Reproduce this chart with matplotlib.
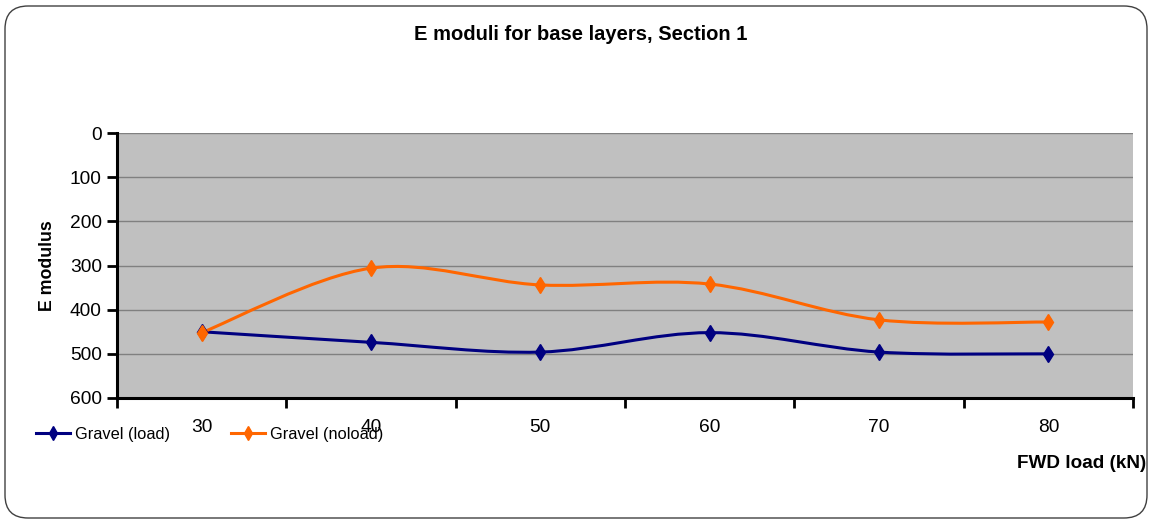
import numpy as np
import matplotlib
matplotlib.use("Agg")
import matplotlib.pyplot as plt
from matplotlib.path import Path
from matplotlib.patches import PathPatch, FancyBboxPatch
from matplotlib.lines import Line2D

# FWD load levels and back-calculated base layer moduli
loads = ["30", "40", "50", "60", "70", "80"]
e_load = [450, 474, 496, 452, 496, 500]
e_noload = [452, 306, 344, 342, 423, 428]

NAVY = "#000080"
ORANGE = "#FF6600"
PLOT_BG = "#C0C0C0"

plt.rcParams.update({
    "font.family": ["Liberation Sans", "DejaVu Sans"],
    "font.size": 12,
})


def smooth_path(xs, ys):
    """Catmull-Rom curve through the points, as cubic Bezier segments."""
    pts = np.column_stack([xs, ys]).astype(float)
    ext = np.vstack([pts[0], pts, pts[-1]])
    verts = [tuple(pts[0])]
    codes = [Path.MOVETO]
    for i in range(1, len(ext) - 2):
        p0, p1, p2, p3 = ext[i - 1], ext[i], ext[i + 1], ext[i + 2]
        c1 = p1 + (p2 - p0) / 6.0
        c2 = p2 - (p3 - p1) / 6.0
        verts += [tuple(c1), tuple(c2), tuple(p2)]
        codes += [Path.CURVE4] * 3
    return Path(verts, codes)


fig = plt.figure(figsize=(11.52, 5.22), dpi=100)
fig.patch.set_facecolor("white")

# rounded chart border
fig.patches.append(FancyBboxPatch(
    (5 / 1152, 4 / 522), 1142 / 1152, 512 / 522,
    boxstyle="round,pad=0,rounding_size=0.02",
    transform=fig.transFigure, facecolor="none",
    edgecolor="#404040", linewidth=1.0, mutation_aspect=2.2))

ax = fig.add_axes([117 / 1152, 1 - 398 / 522, (1133 - 117) / 1152, (398 - 133) / 522])
ax.set_facecolor(PLOT_BG)

x = np.arange(len(loads))
ax.set_xlim(-0.5, len(loads) - 0.5)
ax.set_ylim(600, 0)

for vals, color in [(e_load, NAVY), (e_noload, ORANGE)]:
    ax.add_patch(PathPatch(smooth_path(x, vals), facecolor="none",
                           edgecolor=color, linewidth=2.2, zorder=3))
    ax.plot(x, vals, linestyle="none", marker="d", markersize=8.5,
            color=color, zorder=4)

ax.set_yticks(np.arange(0, 601, 100))
ax.yaxis.grid(True, color="#808080", linewidth=1.0)
ax.set_axisbelow(True)
ax.set_xticks(np.arange(-0.5, len(loads), 1.0))
ax.set_xticklabels([])
ax.set_xticks(x, minor=True)
ax.set_xticklabels(loads, minor=True)
ax.tick_params(axis="x", which="major", direction="out", length=7, width=2)
ax.tick_params(axis="x", which="minor", length=0, pad=15, labelsize=13.8)
ax.tick_params(axis="y", direction="out", length=7, width=2, labelsize=13.8, pad=4)

for side in ["top", "right"]:
    ax.spines[side].set_visible(False)
for side in ["left", "bottom"]:
    ax.spines[side].set_linewidth(2.2)

fig.text(581 / 1152, 1 - 35 / 522, "E moduli for base layers, Section 1",
         ha="center", va="center", fontsize=14.5, fontweight="bold")
fig.text(47 / 1152, 1 - 266 / 522, "E modulus", rotation=90,
         ha="center", va="center", fontsize=12.8, fontweight="bold")
fig.text(1146 / 1152, 1 - 463 / 522, "FWD load (kN)",
         ha="right", va="center", fontsize=13.6, fontweight="bold")

handles = [
    Line2D([], [], color=NAVY, linewidth=2.2, marker="d", markersize=7),
    Line2D([], [], color=ORANGE, linewidth=2.2, marker="d", markersize=7),
]
fig.legend(handles, ["Gravel (load)", "Gravel (noload)"], ncol=2,
           loc="center left", bbox_to_anchor=(36 / 1152, 1 - 434 / 522),
           frameon=False, fontsize=11.8, handlelength=2.1, handletextpad=0.3,
           columnspacing=3.7, borderaxespad=0, borderpad=0)

fig.savefig("out.png", dpi=100)
